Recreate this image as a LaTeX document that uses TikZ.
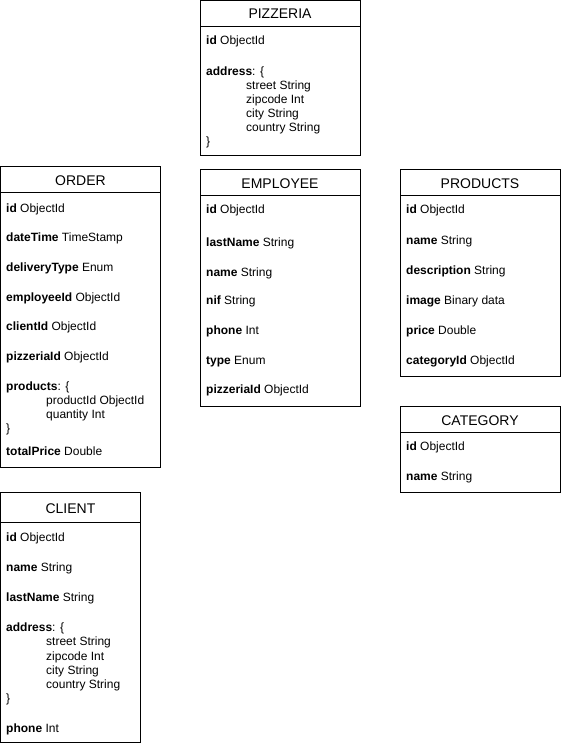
\documentclass[tikz,border=0pt]{standalone}
\usepackage{fontspec}
\setmainfont{Liberation Sans}
\tikzset{
  ent/.style={draw, line width=1pt, inner sep=0pt, outer sep=0pt, anchor=north west},
  divline/.style={line width=1pt},
  ttl/.style={font=\fontsize{14}{16}\selectfont, inner sep=0pt, anchor=base},
  fld/.style={font=\fontsize{12}{14}\selectfont, inner sep=0pt, anchor=base west},
}
\begin{document}
\begin{tikzpicture}[x=1pt,y=-1pt]
\useasboundingbox (0,0) rectangle (561,743);

% PIZZERIA
\node[ent, minimum width=160pt, minimum height=155pt] (pz) at (200,1) {};
\draw[divline] (200,27) -- (360,27);
\node[ttl] (pzt) at (280,19) {PIZZERIA};
\node[fld] (pz1) at (206,45) {\textbf{id} ObjectId};
\node[fld] (pz2) at (206,76) {\textbf{address}: \{};
\node[fld] (pz3) at (246,90) {street String};
\node[fld] (pz4) at (246,104) {zipcode Int};
\node[fld] (pz5) at (246,118) {city String};
\node[fld] (pz6) at (246,132) {country String};
\node[fld] (pz7) at (206,146) {\}};

% ORDER
\node[ent, minimum width=160pt, minimum height=300pt] (ord) at (0.5,167) {};
\draw[divline] (0.5,193) -- (160.5,193);
\node[ttl] (ordt) at (80.5,186) {ORDER};
\node[fld] (or1) at (6,213) {\textbf{id} ObjectId};
\node[fld] (or2) at (6,241) {\textbf{dateTime} TimeStamp};
\node[fld] (or3) at (6,271) {\textbf{deliveryType} Enum};
\node[fld] (or4) at (6,301) {\textbf{employeeId} ObjectId};
\node[fld] (or5) at (6,330) {\textbf{clientId} ObjectId};
\node[fld] (or6) at (6,360) {\textbf{pizzeriaId} ObjectId};
\node[fld] (or7) at (6,390) {\textbf{products}: \{};
\node[fld] (or8) at (46,404) {productId ObjectId};
\node[fld] (or9) at (46,418) {quantity Int};
\node[fld] (or10) at (6,432) {\}};
\node[fld] (or11) at (6,455) {\textbf{totalPrice} Double};

% EMPLOYEE
\node[ent, minimum width=160pt, minimum height=236pt] (emp) at (200,170) {};
\draw[divline] (200,196) -- (360,196);
\node[ttl] (empt) at (280,189) {EMPLOYEE};
\node[fld] (em1) at (206,214) {\textbf{id} ObjectId};
\node[fld] (em2) at (206,246) {\textbf{lastName} String};
\node[fld] (em3) at (206,276) {\textbf{name} String};
\node[fld] (em4) at (206,304) {\textbf{nif} String};
\node[fld] (em5) at (206,334) {\textbf{phone} Int};
\node[fld] (em6) at (206,364) {\textbf{type} Enum};
\node[fld] (em7) at (206,393) {\textbf{pizzeriaId} ObjectId};

% PRODUCTS
\node[ent, minimum width=160pt, minimum height=206pt] (prd) at (400,170) {};
\draw[divline] (400,196) -- (560,196);
\node[ttl] (prdt) at (480,189) {PRODUCTS};
\node[fld] (pr1) at (406,214) {\textbf{id} ObjectId};
\node[fld] (pr2) at (406,244) {\textbf{name} String};
\node[fld] (pr3) at (406,274) {\textbf{description} String};
\node[fld] (pr4) at (406,304) {\textbf{image} Binary data};
\node[fld] (pr5) at (406,334) {\textbf{price} Double};
\node[fld] (pr6) at (406,364) {\textbf{categoryId} ObjectId};

% CATEGORY
\node[ent, minimum width=160pt, minimum height=86pt] (cat) at (400,406) {};
\draw[divline] (400,432) -- (560,432);
\node[ttl] (catt) at (480,425) {CATEGORY};
\node[fld] (ca1) at (406,450) {\textbf{id} ObjectId};
\node[fld] (ca2) at (406,480) {\textbf{name} String};

% CLIENT
\node[ent, minimum width=140pt, minimum height=250pt] (cli) at (0.5,492) {};
\draw[divline] (0.5,522) -- (140.5,522);
\node[ttl] (clit) at (70.5,513) {CLIENT};
\node[fld] (cl1) at (6,541) {\textbf{id} ObjectId};
\node[fld] (cl2) at (6,571) {\textbf{name} String};
\node[fld] (cl3) at (6,601) {\textbf{lastName} String};
\node[fld] (cl4) at (6,631) {\textbf{address}: \{};
\node[fld] (cl5) at (46,645) {street String};
\node[fld] (cl6) at (46,660) {zipcode Int};
\node[fld] (cl7) at (46,674) {city String};
\node[fld] (cl8) at (46,688) {country String};
\node[fld] (cl9) at (6,702) {\}};
\node[fld] (cl10) at (6,732) {\textbf{phone} Int};
\end{tikzpicture}
\end{document}
